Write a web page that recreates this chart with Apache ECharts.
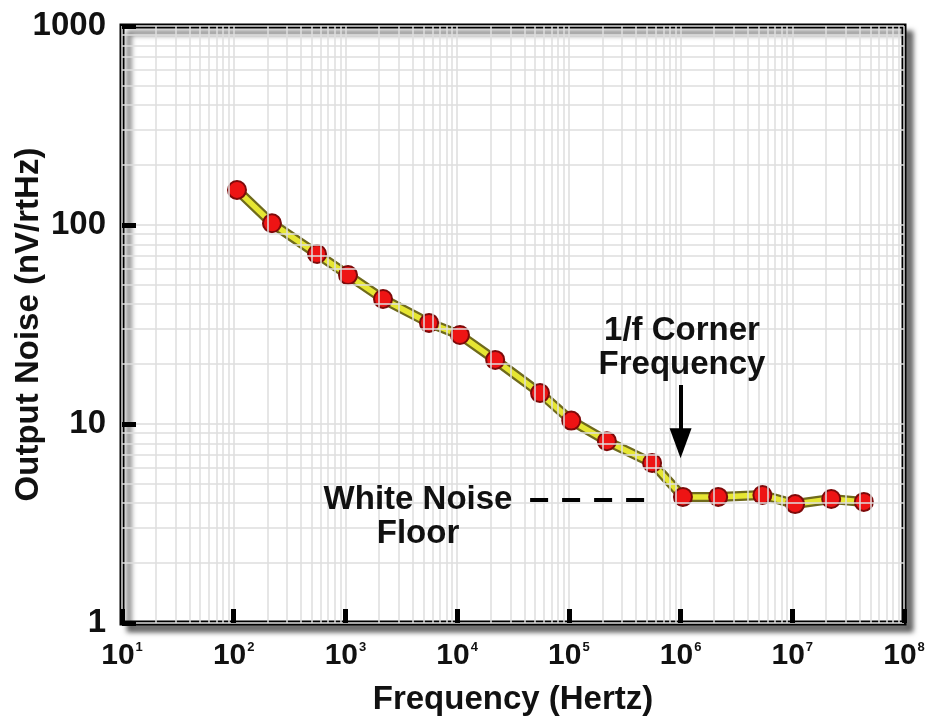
<!DOCTYPE html>
<html>
<head>
<meta charset="utf-8">
<script src="https://cdn.jsdelivr.net/npm/echarts@6/dist/echarts.min.js"></script>
<style>
  html, body { margin: 0; padding: 0; background: #ffffff; }
  #chart { width: 930px; height: 718px; }
</style>
</head>
<body>
<div id="chart"></div>
<script>
// ---- data ----
var frequencyHz = [107, 220, 557, 1055, 2170, 5600, 10600, 21900, 55200, 105000, 219000, 556000, 1050000, 2170000, 5400000, 10600000, 22300000, 43700000];
var noiseNV = [150, 102, 71.5, 56, 42.5, 32.2, 28, 21, 14.3, 10.4, 8.2, 6.37, 4.3, 4.3, 4.4, 3.96, 4.2, 4.06];
var xExponentLabels = ['1', '2', '3', '4', '5', '6', '7', '8'];
var yTickLabels = ['1', '10', '100', '1000'];
var xDecades = [10, 100, 1000, 10000, 100000, 1000000, 10000000];
var yDecades = [1, 10, 100];
var minorMultipliers = [2, 3, 4, 5, 6, 7, 8, 9];
var cornerFrequency = 1000000;
var whiteNoiseLevel = 4.15;
var dashFrom = 45000, dashTo = 500000;
var arrowTop = 15.7, arrowEnd = 8.0;

var points = frequencyHz.map(function (f, i) { return [f, noiseNV[i]]; });

// minor grid lines (graph-paper look)
var gridLines = [];
xDecades.forEach(function (d) {
  minorMultipliers.forEach(function (m) { gridLines.push({ xAxis: d * m }); });
});
yDecades.forEach(function (d) {
  minorMultipliers.forEach(function (m) { gridLines.push({ yAxis: d * m }); });
});

var FONT = '"Liberation Sans", Arial, Helvetica, sans-serif';

var chart = echarts.init(document.getElementById('chart'), null, { renderer: 'canvas' });

chart.setOption({
  backgroundColor: '#ffffff',
  animation: false,
  grid: {
    left: 122, right: 26, top: 26, bottom: 95,
    containLabel: false,
    outerBoundsMode: 'none',
    show: true,
    backgroundColor: '#ffffff',
    borderColor: '#000000',
    borderWidth: 5,
    shadowColor: 'rgba(0,0,0,0.5)',
    shadowBlur: 5,
    shadowOffsetX: 7,
    shadowOffsetY: 7
  },
  xAxis: {
    type: 'log', logBase: 10, min: 10, max: 100000000, splitNumber: 7,
    name: 'Frequency (Hertz)', nameLocation: 'middle', nameGap: 60,
    nameTextStyle: { fontFamily: FONT, fontWeight: 'bold', fontSize: 33, color: '#111' },
    axisLine: { show: false },
    axisTick: { show: true, inside: true, length: 14, lineStyle: { color: '#000', width: 5 } },
    splitLine: { show: true, lineStyle: { color: '#dcdcdc', width: 1.5 } },
    axisLabel: {
      margin: 18,
      formatter: function (v) {
        var idx = Math.round(Math.log10(v)) - 1;
        return '{b|10}{s|' + xExponentLabels[idx] + '}';
      },
      rich: {
        b: { fontFamily: FONT, fontWeight: 'bold', fontSize: 30, color: '#111' },
        s: { fontFamily: FONT, fontWeight: 'bold', fontSize: 13, color: '#111', verticalAlign: 'top', padding: [0, 0, 14, 1] }
      }
    }
  },
  yAxis: {
    type: 'log', logBase: 10, min: 1, max: 1000, splitNumber: 3,
    name: 'Output Noise (nV/rtHz)', nameLocation: 'middle', nameGap: 77, nameRotate: 90,
    nameMoveOverlap: false,
    nameTextStyle: { fontFamily: FONT, fontWeight: 'bold', fontSize: 33, color: '#111' },
    axisLine: { show: false },
    axisTick: { show: true, inside: true, length: 14, lineStyle: { color: '#000', width: 5 } },
    splitLine: { show: true, lineStyle: { color: '#dcdcdc', width: 1.5 } },
    axisLabel: {
      margin: 16,
      fontFamily: FONT, fontWeight: 'bold', fontSize: 33, color: '#111',
      formatter: function (v) {
        return yTickLabels[Math.round(Math.log10(v))];
      }
    }
  },
  series: [
    {
      type: 'line', name: 'grid', data: [], silent: true, z: 1,
      markLine: {
        silent: true, symbol: 'none', animation: false,
        label: { show: false },
        lineStyle: { color: '#dedede', width: 1.5, type: 'solid' },
        data: gridLines
      }
    },
    {
      type: 'line', name: 'edge', data: points, z: 3, silent: true,
      showSymbol: false, symbol: 'none',
      lineStyle: { color: '#6f6a1c', width: 10 }
    },
    {
      type: 'line', name: 'noise', data: points, z: 4,
      symbol: 'circle', symbolSize: 18,
      lineStyle: { color: '#e6e633', width: 5.5 },
      itemStyle: { color: '#ee1414', borderColor: '#7d0a0a', borderWidth: 2 },
      markLine: {
        silent: true, animation: false,
        label: { show: false },
        data: [
          [
            { coord: [dashFrom, whiteNoiseLevel], symbol: 'none', lineStyle: { color: '#000', width: 4, type: [18, 14] } },
            { coord: [dashTo, whiteNoiseLevel], symbol: 'none' }
          ],
          [
            { coord: [cornerFrequency, arrowTop], symbol: 'none', lineStyle: { color: '#000', width: 4, type: 'solid' } },
            { coord: [cornerFrequency, arrowEnd], symbol: 'triangle', symbolSize: [22, 30] }
          ]
        ]
      }
    }
  ],
  graphic: [
    {
      type: 'text', x: 682, y: 314, z: 10,
      style: {
        text: '1/f Corner\nFrequency', fontFamily: FONT, fontWeight: 'bold', fontSize: 33,
        fill: '#111', align: 'center', verticalAlign: 'top', lineHeight: 34
      }
    },
    {
      type: 'text', x: 418, y: 483, z: 10,
      style: {
        text: 'White Noise\nFloor', fontFamily: FONT, fontWeight: 'bold', fontSize: 33,
        fill: '#111', align: 'center', verticalAlign: 'top', lineHeight: 34
      }
    }
  ]
});
</script>
</body>
</html>
